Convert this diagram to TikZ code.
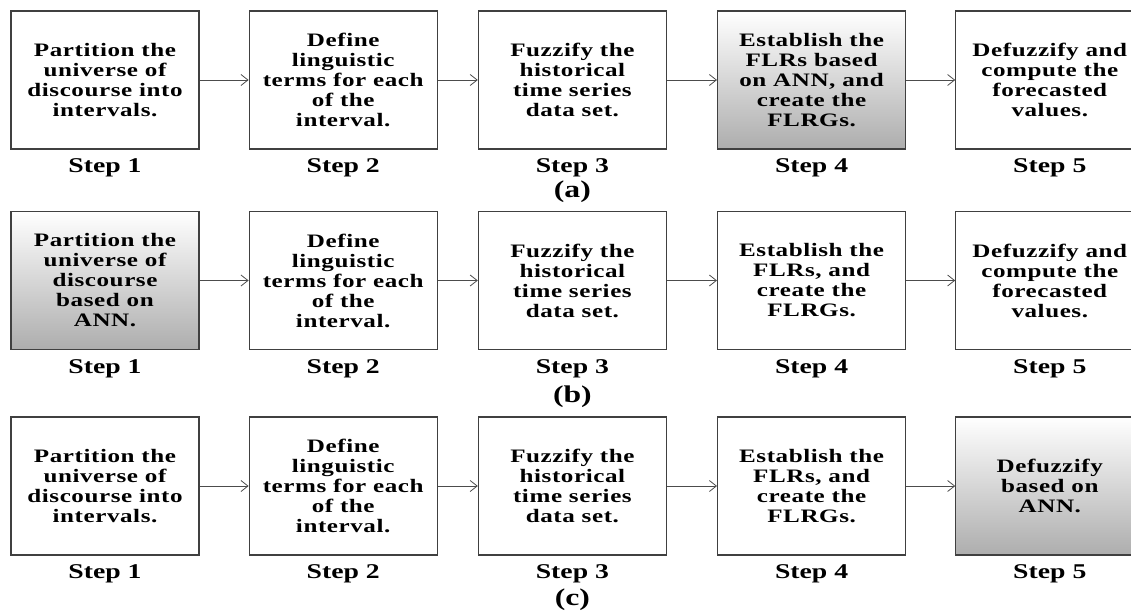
\documentclass[tikz,border=0pt]{standalone}
\usepackage{fontspec}
\setmainfont{Liberation Serif}[FakeStretch=1.32]
\usetikzlibrary{positioning,arrows.meta}

\tikzset{
  stepbox/.style={draw=black!75, line width=1.2pt, minimum width=188pt, minimum height=138pt,
    align=center, inner sep=0pt,
    font=\fontsize{19}{20}\selectfont\bfseries\addfontfeature{LetterSpace=3}},
  annbox/.style={stepbox, top color=white, bottom color=black!32},
  steplabel/.style={inner sep=0pt, font=\fontsize{21}{24}\selectfont\bfseries},
  partlabel/.style={inner sep=0pt, font=\fontsize{24}{26}\selectfont\bfseries},
  flow/.style={->, line width=0.8pt, black!70},
}

\begin{document}
\begin{tikzpicture}[x=1pt,y=-1pt,node distance=49pt,>={Straight Barb[length=7pt,width=11pt]}]
\useasboundingbox (0,0) rectangle (1131,611);
% (a) ANN in step 4
\node (a1) [stepbox] at (105,80) {Partition the\\universe of\\discourse into\\intervals.};
\node (a2) [stepbox, right=of a1] {Define\\linguistic\\terms for each\\of the\\interval.};
\node (a3) [stepbox, right=40pt of a2] {Fuzzify the\\historical\\time series\\data set.};
\node (a4) [annbox, right=50pt of a3] {Establish the\\FLRs based\\on ANN, and\\create the\\FLRGs.};
\node (a5) [stepbox, right=of a4] {Defuzzify and\\compute the\\forecasted\\values.};
\node (sa1) [steplabel, below=9pt of a1] {Step 1};
\node (sa2) [steplabel, below=9pt of a2] {Step 2};
\node (sa3) [steplabel, below=9pt of a3] {Step 3};
\node (sa4) [steplabel, below=9pt of a4] {Step 4};
\node (sa5) [steplabel, below=9pt of a5] {Step 5};
\node (pa) [partlabel, below=3pt of sa3] {(a)};
\draw[flow] (a1)--(a2);
\draw[flow] (a2)--(a3);
\draw[flow] (a3)--(a4);
\draw[flow] (a4)--(a5);

% (b) ANN in step 1
\node (b1) [annbox] at (105,280.5) {Partition the\\universe of\\discourse\\based on\\ANN.};
\node (b2) [stepbox, right=of b1] {Define\\linguistic\\terms for each\\of the\\interval.};
\node (b3) [stepbox, right=40pt of b2] {Fuzzify the\\historical\\time series\\data set.};
\node (b4) [stepbox, right=50pt of b3] {Establish the\\FLRs, and\\create the\\FLRGs.};
\node (b5) [stepbox, right=of b4] {Defuzzify and\\compute the\\forecasted\\values.};
\node (sb1) [steplabel, below=9pt of b1] {Step 1};
\node (sb2) [steplabel, below=9pt of b2] {Step 2};
\node (sb3) [steplabel, below=9pt of b3] {Step 3};
\node (sb4) [steplabel, below=9pt of b4] {Step 4};
\node (sb5) [steplabel, below=9pt of b5] {Step 5};
\node (pb) [partlabel, below=8pt of sb3] {(b)};
\draw[flow] (b1)--(b2);
\draw[flow] (b2)--(b3);
\draw[flow] (b3)--(b4);
\draw[flow] (b4)--(b5);

% (c) ANN in step 5
\node (c1) [stepbox] at (105,486) {Partition the\\universe of\\discourse into\\intervals.};
\node (c2) [stepbox, right=of c1] {Define\\linguistic\\terms for each\\of the\\interval.};
\node (c3) [stepbox, right=40pt of c2] {Fuzzify the\\historical\\time series\\data set.};
\node (c4) [stepbox, right=50pt of c3] {Establish the\\FLRs, and\\create the\\FLRGs.};
\node (c5) [annbox, right=of c4] {Defuzzify\\based on\\ANN.};
\node (sc1) [steplabel, below=9pt of c1] {Step 1};
\node (sc2) [steplabel, below=9pt of c2] {Step 2};
\node (sc3) [steplabel, below=9pt of c3] {Step 3};
\node (sc4) [steplabel, below=9pt of c4] {Step 4};
\node (sc5) [steplabel, below=9pt of c5] {Step 5};
\node (pc) [partlabel, below=5pt of sc3] {(c)};
\draw[flow] (c1)--(c2);
\draw[flow] (c2)--(c3);
\draw[flow] (c3)--(c4);
\draw[flow] (c4)--(c5);
\end{tikzpicture}
\end{document}
